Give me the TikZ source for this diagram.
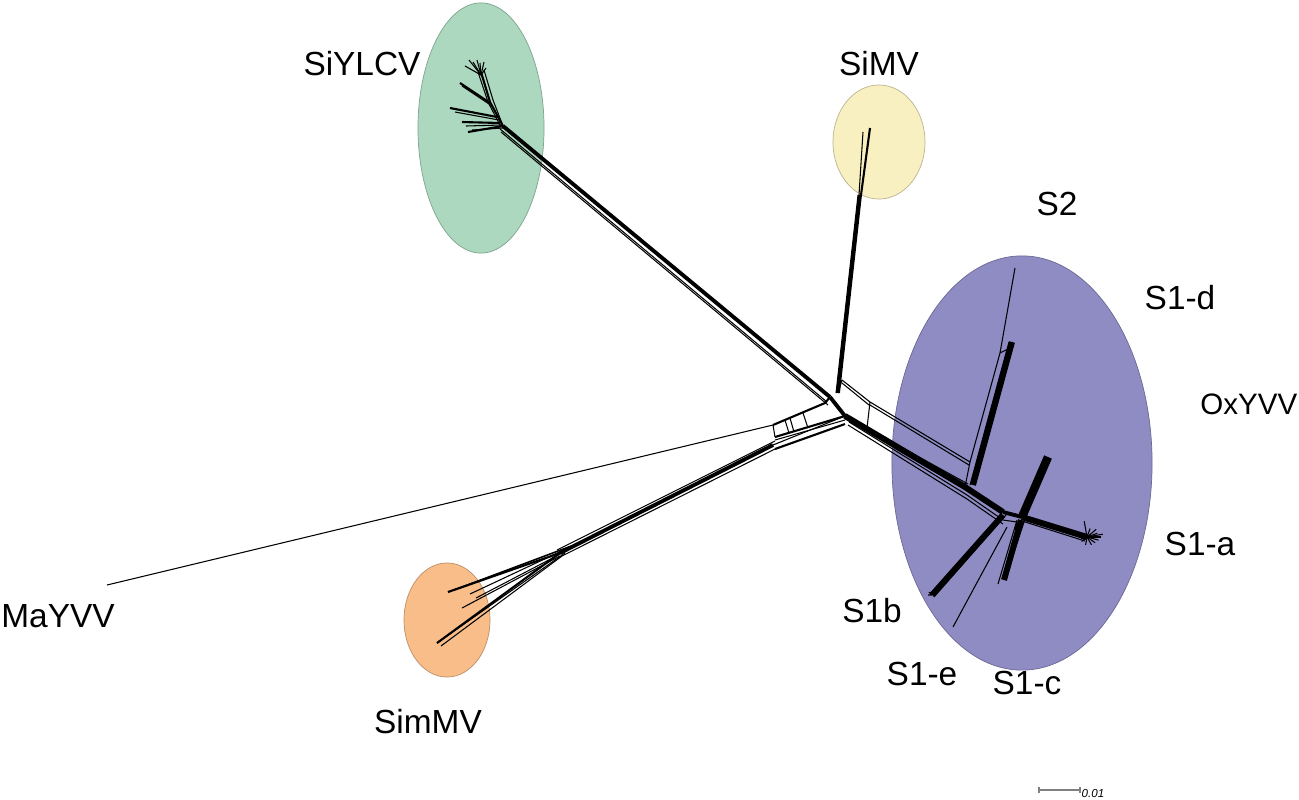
\documentclass[tikz,border=0pt]{standalone}
\usepackage{fontspec}
\setmainfont{Liberation Sans}
\definecolor{gfill}{RGB}{171,216,190}
\definecolor{yfill}{RGB}{248,240,192}
\definecolor{pfill}{RGB}{143,140,196}
\definecolor{ofill}{RGB}{249,189,138}
\begin{document}
\begin{tikzpicture}[x=0.01cm,y=-0.01cm,
  lbl/.style={font=\fontsize{9.5}{11}\selectfont, inner sep=0pt},
  ln1/.style={line width=0.3pt, black},
  ln2/.style={line width=0.6pt, black},
  ln3/.style={line width=1.1pt, black},
  ln4/.style={line width=1.7pt, black, line cap=butt},
  blob/.style={draw=#1!75!black, line width=0.2pt, fill=#1}]
\useasboundingbox (0,0) rectangle (1299,799);
% ---------- clusters ----------
\fill[blob=gfill] (481,128) ellipse [x radius=0.63cm, y radius=1.25cm];
\fill[blob=yfill] (879,142) ellipse [x radius=0.46cm, y radius=0.57cm];
\fill[blob=pfill] (1022,463) ellipse [x radius=1.30cm, y radius=2.07cm];
\fill[blob=ofill] (447,620) ellipse [x radius=0.43cm, y radius=0.57cm];
% ---------- key points ----------
\coordinate (gY) at (503,126);   % SiYLCV root
\coordinate (cA) at (830,397);   % central junction
\coordinate (cB) at (845,416);
\coordinate (mT) at (860,195);   % SiMV top of trunk
\coordinate (mB) at (838,393);
\coordinate (maY) at (107,585);
\coordinate (lA) at (773,425);
\coordinate (lB) at (775,437);
\coordinate (sH) at (560,553);   % SimMV hub
\coordinate (bA) at (842,380);
\coordinate (bB) at (870,402);
\coordinate (bC) at (867,428);
\coordinate (pU) at (970,462);
\coordinate (pL) at (965,487);
\coordinate (pH1) at (1003,512);
\coordinate (pH) at (1022,517);
\coordinate (dT) at (1012,342);
\coordinate (s2a) at (1000,353);
\coordinate (s2T) at (1015,268);
\coordinate (aT) at (1087,537);
\coordinate (oT) at (1048,457);
\coordinate (cT) at (1004,580);
\coordinate (bT) at (932,595);
\coordinate (eT) at (953,627);
% ---------- SiYLCV ----------
\draw[ln3] (gY) -- (cA);
\draw[ln1] ([shift={(-3,3)}]gY) -- ([shift={(-3,5)}]cA);
\draw[ln1] ([shift={(-2,6)}]gY) -- ([shift={(-2,8)}]cA);
\draw[ln2] (gY) -- (490,102) -- (481,72);
\draw[ln1] (gY) -- (493,100) -- (484,70);
\draw[ln1] (501,127) -- (488,102) -- (478,72);
\foreach \x/\y in {465/66,469/60,473/62,477/60,480/63,484/62,486/68}
  \draw[ln1] (481,75) -- (\x,\y);
\draw[ln2] (490,103) -- (460,83);
\draw[ln1] (492,106) -- (462,86);
\draw[ln2] (497,117) -- (450,108);
\draw[ln1] (499,120) -- (455,112);
\draw[ln2] (500,123) -- (462,122);
\draw[ln1] (501,125) -- (466,126);
\draw[ln2] (gY) -- (468,132);
\draw[ln1] (503,128) -- (472,130);
% ---------- SiMV ----------
\draw[ln3] (mT) -- (mB);
\draw[ln1] ([shift={(-2,0)}]mT) -- ([shift={(-2,0)}]mB);
\draw[ln1] ([shift={(-1,0)}]mT) -- (863,132);
\draw[ln2] ([shift={(1,0)}]mT) -- (870,128);
% ---------- central box ----------
\draw[ln3] (cA) -- (cB);
\draw[ln1] (bA) -- (bB);
\draw[ln1] ([shift={(0,3)}]bA) -- ([shift={(-1,3)}]bB);
\draw[ln1] (bB) -- (bC);
\draw[ln1] (bB) -- (pU);
\draw[ln1] ([shift={(0,3)}]bB) -- ([shift={(-1,3)}]pU);
\draw[ln1] (bC) -- (cB);
\draw[ln1] (mB) -- (bA);
% ---------- MaYVV + ladder ----------
\draw[ln1] (maY) -- (lA);
\draw[ln2] (lA) -- (825,403) -- (cA);
\draw[ln2] (lB) -- (cB);
\draw[ln1] ([shift={(0,3)}]lB) -- ([shift={(0,4)}]cB);
\draw[ln1] (lA) -- (lB);
\draw[ln1] (785,420) -- (789,433);
\draw[ln1] (790,418) -- (794,432);
\draw[ln1] (803,413) -- (808,428);
% ---------- SimMV ----------
\draw[ln3] (sH) -- ([shift={(-2,8)}]lB);
\draw[ln1] ([shift={(-3,-3)}]sH) -- ([shift={(0,4)}]lB);
\draw[ln1] ([shift={(2,3)}]sH) -- ([shift={(0,12)}]lB);
\draw[ln2] ([shift={(0,12)}]lB) -- ([shift={(0,8)}]cB);
\draw[ln1] ([shift={(-2,8)}]lB) -- (cB);
\foreach \a/\b/\c/\d in {448/592/576/544,460/588/572/546,470/594/568/548,476/598/566/551,462/608/560/556,437/643/565/553,441/646/562/556}
  \draw[ln1] (\a,\b) -- (\c,\d);
\draw[ln2] (437,643) -- (sH);
\draw[ln2] (448,592) -- (sH);
% ---------- main band to S cluster ----------
\draw[ln4] (cB) -- (pL) -- (pH1);
\draw[ln1] ([shift={(4,6)}]cB) -- ([shift={(2,8)}]pL) -- ([shift={(0,8)}]pH1);
\draw[ln1] ([shift={(3,9)}]cB) -- ([shift={(2,12)}]pL) -- ([shift={(0,12)}]pH1);
\draw[ln1] ([shift={(5,3)}]cB) -- ([shift={(3,-3)}]pL);
\draw[ln1] (pU) -- (pL);
% ---------- S cluster ----------
\draw[ln4] ([shift={(8,-2)}]pL) -- (dT);
\draw[ln1] ([shift={(5,-2)}]pL) -- ([shift={(-3,0)}]dT);
\draw[ln1] (pU) -- (s2a) -- (s2T);
\draw[ln1] (s2a) -- ([shift={(0,5)}]dT);
\draw[ln3] (pH1) -- (pH);
\draw[ln4] (pH) -- (aT);
\draw[ln1] ([shift={(0,4)}]pH) -- ([shift={(-2,4)}]aT);
\foreach \a/\r in {0/14,15/12,-20/11,-40/12,35/10,60/9,100/8,140/7,-70/9,-100/16,165/6,-150/7,200/8,-10/16}
  \draw[ln1] (aT) -- ++(\a:\r);
\draw[line width=2.4pt, black] (oT) -- (pH);
\draw[ln4] ([shift={(-1,3)}]pH) -- (cT);
\draw[ln1] ([shift={(-5,3)}]pH) -- ([shift={(-6,4)}]cT);
\draw[ln1] ([shift={(3,2)}]pH) -- ([shift={(1,0)}]cT);
\draw[ln4] ([shift={(0,3)}]pH1) -- (bT);
\draw[ln1] ([shift={(3,3)}]pH1) -- ([shift={(2,2)}]bT);
\draw[ln1] (bT) -- ++(-4,0) (bT) -- ++(-3,-3);
\draw[ln1] ([shift={(4,15)}]pH1) -- (eT);
\draw[ln1] ([shift={(0,8)}]pH1) -- ([shift={(14,10)}]pH1) -- ([shift={(12,18)}]pH1);
% ---------- labels ----------
\node[lbl] (lSiYLCV) at (362,64) {SiYLCV};
\node[lbl] (lSiMV) at (879,64) {SiMV};
\node[lbl] (lS2) at (1057,204) {S2};
\node[lbl] (lS1d) at (1180,298) {S1-d};
\node[lbl, font=\fontsize{8.4}{10}\selectfont, anchor=east] (lOx) at (1298,404) {OxYVV};
\node[lbl] (lS1a) at (1200,544) {S1-a};
\node[lbl] (lS1b) at (872,611) {S1b};
\node[lbl] (lS1e) at (922,674) {S1-e};
\node[lbl] (lS1c) at (1027,683) {S1-c};
\node[lbl] (lMa) at (58,616) {MaYVV};
\node[lbl] (lSim) at (428,722) {SimMV};
% ---------- scale bar ----------
\coordinate (sb1) at (1039,790);
\coordinate (sb2) at (1080,790);
\draw[line width=0.3pt, gray] (sb1) -- (sb2);
\draw[line width=0.3pt, gray] ([shift={(0,-3)}]sb1) -- ([shift={(0,3)}]sb1);
\draw[line width=0.3pt, gray] ([shift={(0,-3)}]sb2) -- ([shift={(0,3)}]sb2);
\node[font=\fontsize{3.3}{4}\selectfont\itshape, inner sep=0pt, anchor=west] (sbl) at (1081,793) {0.01};
\end{tikzpicture}
\end{document}
